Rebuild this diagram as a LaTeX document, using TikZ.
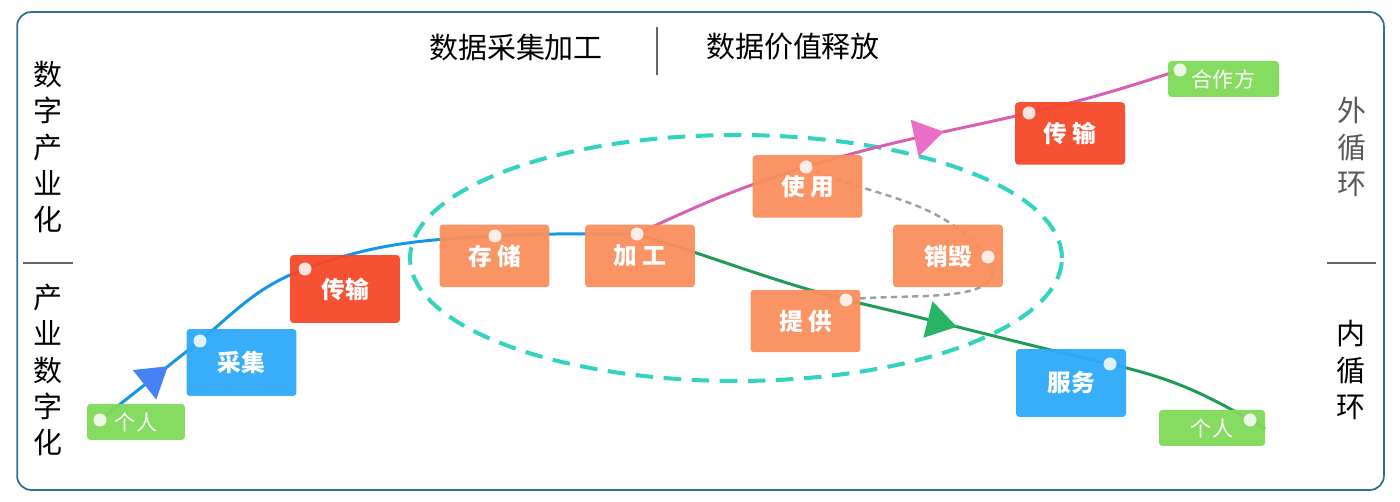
\documentclass[tikz,border=0pt]{standalone}
\usepackage{fontspec}
\setmainfont{Noto Sans CJK SC}
\usetikzlibrary{arrows.meta, positioning, shapes, decorations.markings}
\definecolor{colorPerson}{RGB}{126,218,88}
\definecolor{colorCollect}{RGB}{45,170,250}
\definecolor{colorTrans}{RGB}{245,72,40}
\definecolor{colorProc}{RGB}{250,142,92}
\definecolor{colorFlow}{RGB}{20,150,230}
\definecolor{colorFlowArr}{RGB}{70,130,245}
\definecolor{colorOuter}{RGB}{215,95,180}
\definecolor{colorOuterArr}{RGB}{235,110,200}
\definecolor{colorInner}{RGB}{30,155,85}
\definecolor{colorInnerArr}{RGB}{40,180,100}
\definecolor{colorRing}{RGB}{50,212,192}
\definecolor{colorFrame}{RGB}{46,112,144}

\begin{document}
\begin{tikzpicture}[x=0.02cm, y=-0.02cm,
  box/.style={rounded corners=2pt,fill=#1,fill opacity=0.95,text opacity=1,
    text=white,inner sep=0pt,minimum width=2.2cm,minimum height=1.25cm,
    font=\fontsize{13.5}{16}\selectfont\bfseries},
  tag/.style={box=colorPerson,minimum height=0.72cm,font=\fontsize{12}{14}\selectfont},
  knob/.style={circle,fill=white,fill opacity=0.85,inner sep=0pt,minimum size=0.26cm},
  flow/.style={line width=1.7pt,draw=#1},
  tri/.style 2 args={postaction={decorate},decoration={markings,
    mark=at position #1 with {\arrow[color=#2]{Triangle[length=17pt,width=21pt]}}}},
  gdash/.style={draw=gray!75,line width=1.4pt,dash pattern=on 3.5pt off 2.5pt},
  sidetxt/.style={align=center,inner sep=0pt,font=\fontsize{16.5}{20.6}\selectfont},
  headtxt/.style={inner sep=0pt,font=\fontsize{16.5}{20}\selectfont},
  divline/.style={draw=black!60,line width=1pt},
]
\useasboundingbox (0,0) rectangle (1400,502);

% Frame
\node[draw=colorFrame,line width=1pt,rounded corners=8pt,inner sep=0pt,
  minimum width=27.34cm,minimum height=9.56cm] (frame) at (700.5,251) {};

% Headings
\node[headtxt] (hLeft) at (516,47) {数据采集加工};
\node[headtxt] (hRight) at (793,47) {数据价值释放};
\coordinate (hTop) at (657,27);
\coordinate (hBot) at (657,75);
\draw[divline] (hTop) -- (hBot);

% Side labels
\node[sidetxt] (dInd) at (48,147) {数\\字\\产\\业\\化};
\node[sidetxt] (iDig) at (48,370) {产\\业\\数\\字\\化};
\node[sidetxt,text=black!65] (outer) at (1352,147) {外\\循\\环};
\node[sidetxt] (inner) at (1351,370) {内\\循\\环};
\coordinate (lsA) at (23,263);
\coordinate (lsB) at (73,263);
\coordinate (rsA) at (1327,263);
\coordinate (rsB) at (1376,263);
\draw[divline] (lsA) -- (lsB);
\draw[divline] (rsA) -- (rsB);

% Processing ring
\node[ellipse,draw=colorRing,line width=2.3pt,dash pattern=on 10pt off 6pt,
  inner sep=0pt,minimum width=13.04cm,minimum height=4.92cm] (ring) at (736,258) {};

% Dot positions
\coordinate (pA) at (100,420);
\coordinate (pB) at (200,341);
\coordinate (pC) at (305,269);
\coordinate (pD) at (495,236);
\coordinate (pE) at (637,234);
\coordinate (pF) at (806,167);
\coordinate (pG) at (988,257);
\coordinate (pH) at (846,300);
\coordinate (pI) at (1029,113);
\coordinate (pJ) at (1180,70);
\coordinate (pK) at (1110,364);
\coordinate (pL) at (1250,420);
\coordinate (pEnd) at (1265,429);

% Collection flow
\draw[flow=colorFlow,tri={0.68}{colorFlowArr}] (pA) to[out=38,in=218] (pB);
\draw[flow=colorFlow] (pB) to[out=40,in=200] (pC) to[out=20,in=183] (pD)
  to[out=3,in=180] (pE);

% Outer loop
\draw[flow=colorOuter] (pE) to[out=25,in=197] (pF);
\draw[flow=colorOuter,tri={0.62}{colorOuterArr}] (pF) to[out=17,in=193] (pI);
\draw[flow=colorOuter] (pI) to[out=13,in=198] (pJ);

% Inner loop
\draw[flow=colorInner] (pE) to[out=-17,in=165] (pH);
\draw[flow=colorInner,tri={0.42}{colorInnerArr}] (pH) to[out=-13,in=167] (pK);
\draw[flow=colorInner] (pK) to[out=-13,in=150] (pL) -- (pEnd);

% Destruction path
\draw[gdash] (pF) to[out=-24,in=130] (pG) to[out=-60,in=8] (pH);

% Boxes
\node[tag,minimum width=1.96cm] (perL) at (136,422) {个人};
\node[box=colorCollect,minimum height=1.34cm] (collect) at (241.5,362.5) {采集};
\node[box=colorTrans,minimum height=1.36cm] (transL) at (345,289) {传输};
\node[box=colorProc] (store) at (494.5,256) {存 储};
\node[box=colorProc] (proc) at (640,256) {加 工};
\node[box=colorProc] (use) at (807.5,186.5) {使 用};
\node[box=colorProc] (destroy) at (948,256) {销毁};
\node[box=colorProc] (supply) at (805.5,321) {提 供};
\node[box=colorTrans] (transR) at (1070,133.5) {传 输};
\node[tag,minimum width=2.22cm] (partner) at (1223.5,79) {合作方};
\node[box=colorCollect,minimum height=1.36cm] (serve) at (1071,383) {服务};
\node[tag,minimum width=2.12cm] (perR) at (1212,428) {个人};

% Dots
\foreach \p in {A,B,C,D,E,F,G,H,I,J,K,L}
  \node[knob] (k\p) at (p\p) {};

\end{tikzpicture}
\end{document}
